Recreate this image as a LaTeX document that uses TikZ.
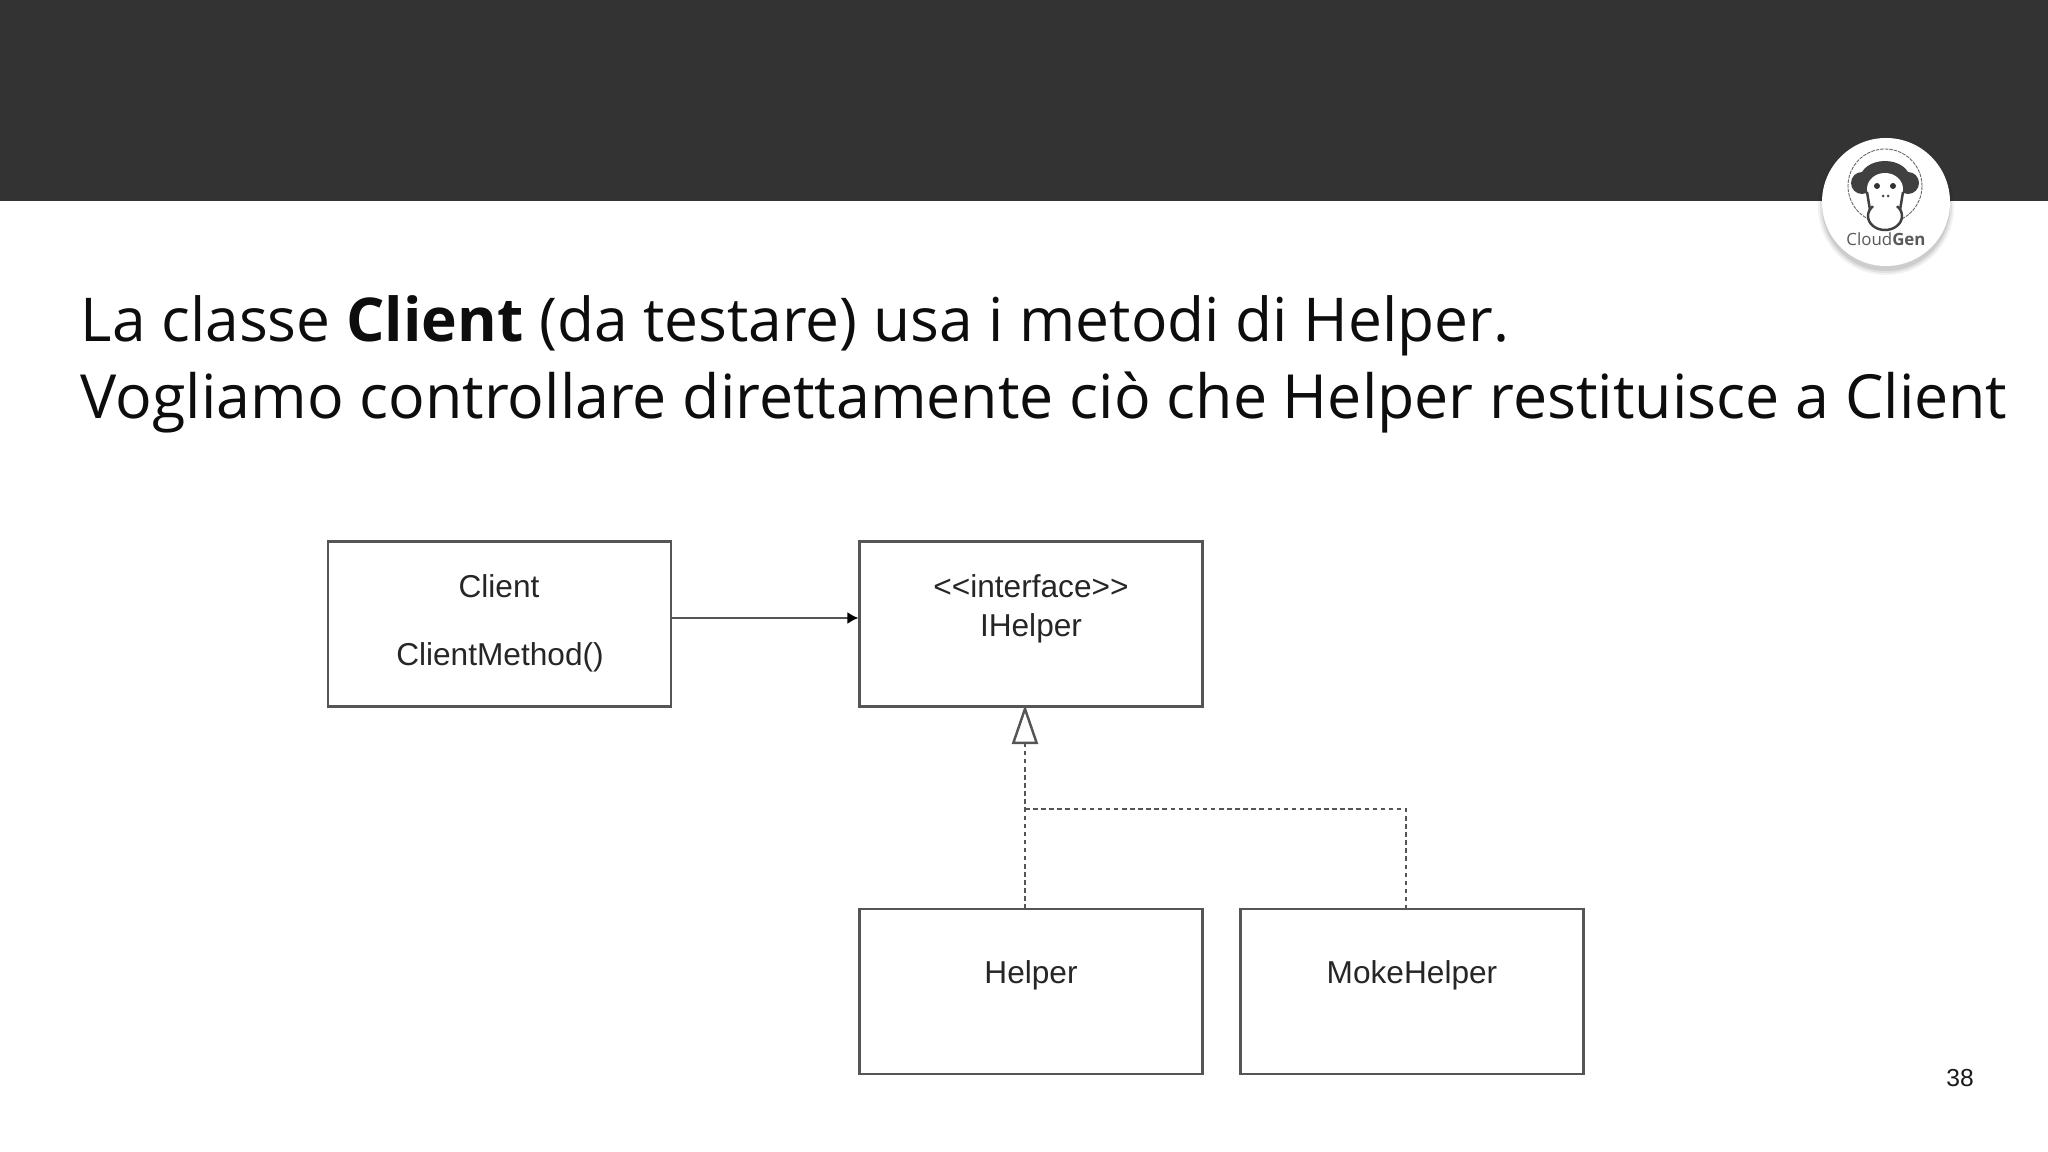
\documentclass[tikz,border=0pt]{standalone}
\usepackage{fontspec}
\setmainfont{Open Sans}
\newfontfamily\umlfont{Liberation Sans}
\usetikzlibrary{arrows.meta}
\definecolor{bandgrey}{HTML}{333333}
\definecolor{linegrey}{HTML}{555555}
\tikzset{
  classbox/.style={draw=linegrey,line width=0.6pt,minimum width=3.43cm,minimum height=1.65cm,inner sep=0pt},
  umltext/.style={font=\umlfont\fontsize{9}{11}\selectfont,text=black!85,inner sep=0pt,align=center},
  slidetext/.style={anchor=base west,inner sep=0pt,text=black!95},
  realizes/.style={draw=linegrey,line width=0.7pt,dash pattern=on 1.3pt off 1pt}
}
\begin{document}
\begin{tikzpicture}
  \useasboundingbox (0,0) rectangle (20.48,-11.52);
  % band and logo
  \fill[bandgrey] (0,0) rectangle (20.48,-2.01);
  \foreach \r/\o in {0.68/0.05,0.66/0.07,0.64/0.09}
    \fill[black,opacity=\o] (18.86,-2.07) circle (\r);
  \fill[white] (18.86,-2.02) circle (0.64);
  \draw[black!60,line width=0.25pt,dash pattern=on 1pt off 0.3pt] (18.85,-1.86) circle (0.37);
  \fill[black!75] (18.85,-1.79) ellipse (0.25 and 0.18);
  \fill[black!75] (18.62,-1.83) circle (0.11);
  \fill[black!75] (19.08,-1.83) circle (0.11);
  \fill[white] (18.85,-1.89) ellipse (0.18 and 0.16);
  \draw[black!75,line width=0.7pt,fill=white] (18.85,-2.16) ellipse (0.17 and 0.14);
  \fill[white] (18.85,-2.02) ellipse (0.15 and 0.07);
  \draw[black!75,line width=0.7pt] (18.67,-1.92) -- (18.70,-2.10);
  \draw[black!75,line width=0.7pt] (19.03,-1.92) -- (19.00,-2.10);
  \fill[black!80] (18.77,-1.86) circle (0.03);
  \fill[black!80] (18.93,-1.86) circle (0.03);
  \fill[black!70] (18.83,-1.96) circle (0.015);
  \fill[black!70] (18.88,-1.96) circle (0.015);
  \node[inner sep=0pt,text=black!65] (logotext) at (18.86,-2.39) {\fontsize{4.8}{6}\selectfont Cloud\textbf{Gen}};
  % slide text
  \node[slidetext,font=\fontsize{17.2}{20}\selectfont] (lineone) at (0.80,-3.42) {La classe \textbf{Client} (da testare) usa i metodi di Helper.};
  \node[slidetext,font=\fontsize{17.32}{20}\selectfont] (linetwo) at (0.80,-4.19) {Vogliamo controllare direttamente ciò che Helper restituisce a Client};
  % classes
  \node[classbox] (client) at (4.995,-6.24) {};
  \node[classbox] (ihelper) at (10.31,-6.24) {};
  \node[classbox] (helper) at (10.31,-9.915) {};
  \node[classbox] (moke) at (14.12,-9.915) {};
  \node[umltext] (clientname) at (4.99,-5.86) {Client};
  \node[umltext] (clientmethod) at (5.00,-6.57) {ClientMethod()};
  \node[umltext] (ihelpername) at (10.31,-6.09) {<{}<interface>{}>\\IHelper};
  \node[umltext] (helpername) at (10.31,-9.75) {Helper};
  \node[umltext] (mokename) at (14.12,-9.75) {MokeHelper};
  % connectors
  \draw[linegrey,line width=0.6pt,-{Latex[black,length=0.11cm,width=0.12cm]}] (client.east |- 0,-6.18) -- (ihelper.west |- 0,-6.18);
  \coordinate (tip) at (10.25,-7.05);
  \coordinate (fork) at (10.25,-8.09);
  \coordinate (corner) at (14.06,-8.09);
  \coordinate (helperup) at (10.25,-9.09);
  \coordinate (mokeup) at (14.06,-9.09);
  \draw[realizes,-{Triangle[open,fill=white,length=0.39cm,width=0.26cm,line width=0.7pt]}] (helperup) -- (tip);
  \draw[realizes] (fork) -- (corner) -- (mokeup);
  % page number
  \node[inner sep=0pt,text=black!90] (pagenum) at (19.60,-10.78) {\umlfont\fontsize{7}{8}\selectfont 38};
\end{tikzpicture}
\end{document}
